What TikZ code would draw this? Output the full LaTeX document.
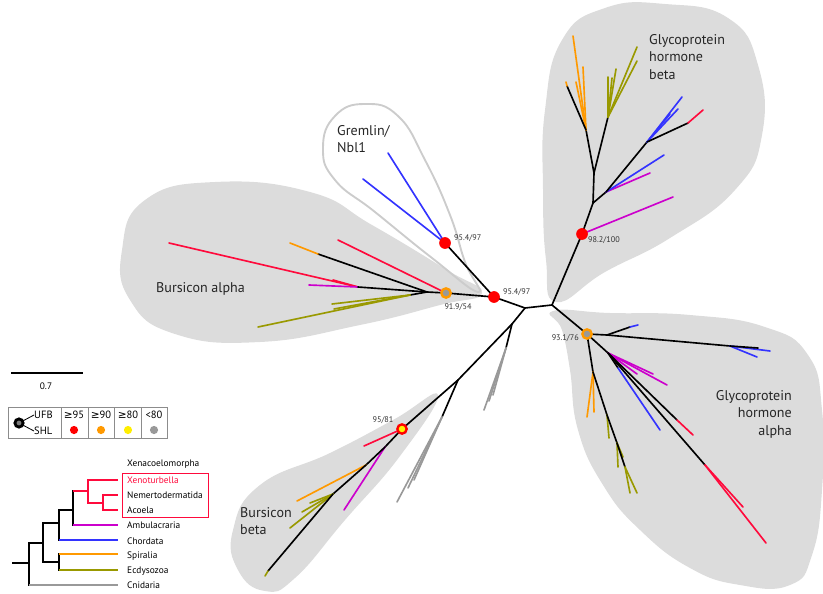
\documentclass[tikz,border=0pt]{standalone}
\usepackage{fontspec}
\setmainfont{PT Sans}
\newfontfamily\symfont{DejaVu Sans}
\usepackage{xcolor}
\usepackage{tikz}
\usetikzlibrary{arrows.meta,positioning,calc}
\definecolor{xencol}{HTML}{FF0A3C}
\definecolor{ambcol}{HTML}{CC00CC}
\definecolor{chocol}{HTML}{3333FF}
\definecolor{spicol}{HTML}{FF9900}
\definecolor{ecdcol}{HTML}{999900}
\definecolor{cnicol}{HTML}{999999}
\definecolor{blobfill}{HTML}{DCDCDC}
\definecolor{gremline}{HTML}{CCCCCC}
\definecolor{bsred}{HTML}{FF0000}
\definecolor{bsorange}{HTML}{FF9900}
\definecolor{bsyellow}{HTML}{FFEE00}
\definecolor{bsgrey}{HTML}{999999}

\begin{document}
\begin{tikzpicture}[
  x=0.03cm, y=-0.03cm,
  br/.style={line width=1.4pt, line cap=round},
  xen/.style={br, xencol},
  amb/.style={br, ambcol},
  cho/.style={br, chocol},
  spi/.style={br, spicol},
  ecd/.style={br, ecdcol},
  cni/.style={br, cnicol},
  cbr/.style={line width=2.2pt, line cap=rect},
  clade/.style={font=\fontsize{12}{15}\selectfont, text=black!85, inner sep=0pt},
  suplab/.style={font=\fontsize{7}{8}\selectfont, text=black!80, inner sep=0pt},
  leglab/.style={font=\fontsize{8}{9}\selectfont, inner sep=0pt, anchor=west},
  boxlab/.style={font=\fontsize{9}{10}\selectfont, inner sep=0pt},
  sup95/.style={circle, fill=bsred, inner sep=0pt, minimum size=10pt},
  sup90/.style={circle, fill=bsgrey, draw=bsorange, line width=2pt, inner sep=0pt, minimum size=8pt},
  sup80/.style={circle, fill=bsyellow, draw=bsred, line width=2pt, inner sep=0pt, minimum size=8pt},
  legdot/.style={circle, inner sep=0pt, minimum size=7pt}
]
  \useasboundingbox (0,0) rectangle (823,593);

  \fill[blobfill] plot[smooth cycle, tension=0.8] coordinates {(122,250) (145,200) (215,182) (310,192) (372,225) (447,270) (482,293) (440,305) (360,325) (260,342) (175,334) (130,300)};
  \fill[blobfill] plot[smooth cycle, tension=0.8] coordinates {(556,302) (546,260) (543,190) (545,110) (562,40) (605,8) (665,4) (728,18) (758,65) (762,135) (735,190) (670,238) (605,272)};
  \fill[blobfill] plot[smooth cycle, tension=0.8] coordinates {(553,311) (610,313) (690,315) (765,327) (808,355) (822,410) (822,490) (812,555) (790,585) (740,585) (690,568) (640,530) (603,485) (578,430) (570,370) (562,330)};
  \fill[blobfill] plot[smooth cycle, tension=0.8] coordinates {(438,395) (393,420) (330,453) (260,485) (233,530) (238,570) (265,591) (295,578) (345,520) (400,456)};
  \draw[gremline, line width=1.6pt] plot[smooth cycle, tension=0.8] coordinates {(478,292) (465,262) (450,215) (425,160) (398,116) (365,104) (335,116) (323,148) (335,180) (375,212) (432,258)};

  \coordinate (root) at (552,305);
  \coordinate (lj) at (525,308);
  \coordinate (gb) at (494,297);
  \coordinate (grem) at (445,243);
  \coordinate (bsa) at (446,293);
  \coordinate (bsaj) at (427,292);
  \coordinate (ghb) at (582,234);
  \coordinate (gha) at (587,334);
  \coordinate (bsb) at (402,429);
  \coordinate (cn1) at (512,324);
  \coordinate (cn1b) at (506,348);
  \coordinate (cn2) at (458,380);
  \coordinate (cn3) at (442,417);

  \draw[br] (root) -- (lj);
  \draw[br] (lj) -- (gb);
  \draw[br] (root) -- (ghb);
  \draw[br] (root) -- (gha);
  \draw[br] (gb) -- (grem);
  \draw[br] (gb) -- (bsa);
  \draw[br] (bsa) -- (bsaj);

  \coordinate (gr1) at (388,153);
  \coordinate (gr2) at (363,179);
  \draw[cho] (grem) -- (gr1);
  \draw[cho] (grem) -- (gr2);

  \coordinate (ba1) at (338,240);
  \coordinate (ba2) at (318,254);
  \coordinate (ba3) at (290,243);
  \coordinate (ba4) at (358,287);
  \coordinate (ba5) at (169,243);
  \coordinate (ba5b) at (333,280);
  \coordinate (ba6) at (309,285);
  \coordinate (ba7) at (410,295);
  \coordinate (ba8) at (258,327);
  \coordinate (ba9) at (332,304);
  \coordinate (ba10) at (334,309);
  \draw[xen] (bsa) -- (ba1);
  \draw[br] (bsaj) -- (ba2);
  \draw[spi] (ba2) -- (ba3);
  \draw[xen] (ba4) -- (ba5);
  \draw[xen] (ba4) -- (ba5b);
  \draw[amb] (ba4) -- (ba6);
  \draw[br] (bsaj) -- (ba4);
  \draw[br] (bsaj) -- (ba7);
  \draw[ecd] (ba7) -- (ba8);
  \draw[ecd] (ba7) -- (ba9);
  \draw[ecd] (ba7) -- (ba10);

  \coordinate (hb1) at (673,197);
  \coordinate (hb2) at (593,203);
  \coordinate (hb3) at (606,192);
  \coordinate (hb4) at (650,173);
  \coordinate (hb5) at (664,155);
  \coordinate (hb6) at (647,142);
  \coordinate (hb7) at (688,123);
  \coordinate (hb8) at (703,110);
  \coordinate (hb9) at (682,97);
  \coordinate (hb10) at (678,109);
  \coordinate (hb11) at (670,114);
  \coordinate (hb12) at (594,173);
  \coordinate (hb13) at (586,130);
  \coordinate (hb14) at (567,86);
  \coordinate (hb14b) at (566,82);
  \coordinate (hbo1) at (573,36);
  \coordinate (hbo2) at (576,82);
  \coordinate (hbo3) at (583,67);
  \coordinate (hb15) at (608,117);
  \coordinate (hbe1) at (637,47);
  \coordinate (hbe2) at (637,61);
  \coordinate (hbe3) at (616,69);
  \coordinate (hbe4) at (608,77);
  \coordinate (hbe5) at (612,78);
  \draw[amb] (ghb) -- (hb1);
  \draw[br] (ghb) -- (hb2);
  \draw[br] (hb2) -- (hb3);
  \draw[amb] (hb3) -- (hb4);
  \draw[cho] (hb3) -- (hb5);
  \draw[br] (hb3) -- (hb6);
  \draw[cho] (hb6) -- (hb9);
  \draw[cho] (hb6) -- (hb10);
  \draw[cho] (hb6) -- (hb11);
  \draw[br] (hb6) -- (hb7);
  \draw[xen] (hb7) -- (hb8);
  \draw[br] (hb2) -- (hb12);
  \draw[br] (hb12) -- (hb13);
  \draw[spi] (hb13) -- (hbo1);
  \draw[spi] (hb13) -- (hbo2);
  \draw[spi] (hb13) -- (hbo3);
  \draw[br] (hb13) -- (hb14);
  \draw[spi] (hb14) -- (hb14b);
  \draw[br] (hb12) -- (hb15);
  \draw[ecd] (hb15) -- (hbe1);
  \draw[ecd] (hb15) -- (hbe2);
  \draw[ecd] (hb15) -- (hbe3);
  \draw[ecd] (hb15) -- (hbe4);
  \draw[ecd] (hb15) -- (hbe5);

  \coordinate (ha1) at (607,335);
  \coordinate (ha2) at (630,327);
  \coordinate (ha3) at (638,325);
  \coordinate (ha4) at (730,346);
  \coordinate (ha4a) at (757,357);
  \coordinate (ha4b) at (770,351);
  \coordinate (ha5) at (758,348);
  \coordinate (ha6) at (608,353);
  \coordinate (ham1) at (637,374);
  \coordinate (ham2) at (653,374);
  \coordinate (ham3) at (667,385);
  \coordinate (ha7) at (618,368);
  \coordinate (ha7b) at (660,430);
  \coordinate (ha8) at (677,420);
  \coordinate (ha8b) at (693,435);
  \coordinate (ha9) at (705,465);
  \coordinate (ha9a) at (743,507);
  \coordinate (ha9b) at (766,543);
  \coordinate (ha10) at (593,372);
  \coordinate (hao1) at (587,417);
  \coordinate (hao2) at (594,412);
  \coordinate (ha12) at (607,415);
  \coordinate (ha13) at (617,443);
  \coordinate (ha14) at (625,467);
  \coordinate (hae1) at (609,438);
  \coordinate (hae2) at (623,457);
  \coordinate (hae3) at (618,467);
  \coordinate (hae4) at (630,493);
  \coordinate (hae5) at (637,493);
  \draw[br] (gha) -- (ha1);
  \draw[br] (ha1) -- (ha2);
  \draw[cho] (ha2) -- (ha3);
  \draw[br] (ha1) -- (ha4);
  \draw[cho] (ha4) -- (ha4a);
  \draw[cho] (ha4) -- (ha4b);
  \draw[br] (ha4) -- (ha5);
  \draw[br] (gha) -- (ha6);
  \draw[amb] (ha6) -- (ham1);
  \draw[amb] (ha6) -- (ham2);
  \draw[amb] (ha6) -- (ham3);
  \draw[br] (ha6) -- (ha7);
  \draw[cho] (ha7) -- (ha7b);
  \draw[br] (ha6) -- (ha8);
  \draw[xen] (ha8) -- (ha8b);
  \draw[br] (ha6) -- (ha9);
  \draw[xen] (ha9) -- (ha9a);
  \draw[xen] (ha9) -- (ha9b);
  \draw[br] (gha) -- (ha10);
  \draw[spi] (ha10) -- (hao1);
  \draw[spi] (ha10) -- (hao2);
  \draw[br] (ha10) -- (ha12);
  \draw[ecd] (ha12) -- (hae1);
  \draw[br] (ha12) -- (ha13);
  \draw[ecd] (ha13) -- (hae2);
  \draw[ecd] (ha13) -- (hae3);
  \draw[br] (ha13) -- (ha14);
  \draw[ecd] (ha14) -- (hae4);
  \draw[ecd] (ha14) -- (hae5);

  \coordinate (cg1) at (484,410);
  \coordinate (cg2) at (493,395);
  \coordinate (cg3) at (489,401);
  \coordinate (cg4) at (397,502);
  \coordinate (cg5) at (414,480);
  \coordinate (cg6) at (408,488);
  \draw[br] (lj) -- (cn1);
  \draw[br] (cn1) -- (cn1b);
  \draw[cni] (cn1b) -- (cg1);
  \draw[cni] (cn1b) -- (cg2);
  \draw[cni] (cn1b) -- (cg3);
  \draw[br] (cn1) -- (cn2);
  \draw[br] (cn2) -- (cn3);
  \draw[cni] (cn3) -- (cg4);
  \draw[cni] (cn3) -- (cg5);
  \draw[cni] (cn3) -- (cg6);
  \draw[br] (cn2) -- (bsb);

  \coordinate (bb1) at (364,446);
  \coordinate (bb2) at (385,447);
  \coordinate (bb3) at (344,510);
  \coordinate (bb4) at (366,465);
  \coordinate (bb5) at (297,501);
  \coordinate (bb6) at (333,494);
  \coordinate (bbe1) at (290,528);
  \coordinate (bbe2) at (310,503);
  \coordinate (bbe3) at (302,512);
  \coordinate (bb7) at (268,571);
  \coordinate (bb7b) at (265,576);
  \draw[xen] (bsb) -- (bb1);
  \draw[br] (bsb) -- (bb2);
  \draw[amb] (bb2) -- (bb3);
  \draw[br] (bb2) -- (bb4);
  \draw[spi] (bb4) -- (bb5);
  \draw[br] (bb4) -- (bb6);
  \draw[ecd] (bb6) -- (bbe1);
  \draw[ecd] (bb6) -- (bbe2);
  \draw[ecd] (bb6) -- (bbe3);
  \draw[br] (bb6) -- (bb7);
  \draw[ecd] (bb7) -- (bb7b);

  \node[sup95] (ngrem) at (grem) {};
  \node[sup95] (ngb) at (gb) {};
  \node[sup90] (nbsa) at (bsa) {};
  \node[sup95] (nghb) at (ghb) {};
  \node[sup90] (ngha) at (gha) {};
  \node[sup80] (nbsb) at (bsb) {};

  \node[suplab, anchor=west] (sgrem) at (454,238) {95.4/97};
  \node[suplab, anchor=west] (sgb) at (503,292) {95.4/97};
  \node[suplab] (sbsa) at (458,307) {91.9/54};
  \node[suplab, anchor=west] (sghb) at (588,240) {98.2/100};
  \node[suplab, anchor=east] (sgha) at (579,338) {93.1/76};
  \node[suplab] (sbsb) at (383,420) {95/81};

  \node[clade, anchor=west, align=left] (lgrem) at (337,139) {Gremlin/\\Nbl1};
  \node[clade, anchor=west] (lbsa) at (156,289) {Bursicon alpha};
  \node[clade, anchor=west, align=left] (lghb) at (649,57) {Glycoprotein\\hormone\\beta};
  \node[clade, anchor=east, align=right] (lgha) at (792,414) {Glycoprotein\\hormone\\alpha};
  \node[clade, anchor=west, align=left] (lbsb) at (240,521) {Bursicon\\beta};

  \coordinate (sb1) at (11,373);
  \coordinate (sb2) at (83,373);
  \draw[line width=1.5pt] (sb1) -- (sb2);
  \node[leglab, anchor=center] (sblab) at (46,386) {0.7};

  \draw[black!45, line width=0.8pt] (8,407) rectangle (167,438);
  \foreach \xd in {61,88,114,141}
    \draw[black!45, line width=0.8pt] (\xd,407) -- (\xd,438);
  \node[boxlab, anchor=west] (kufb) at (34,415) {UFB};
  \node[boxlab, anchor=west] (kshl) at (34,431) {SHL};
  \coordinate (keyc) at (19,423);
  \draw[line width=0.7pt] (keyc) -- (kufb.west);
  \draw[line width=0.7pt] (keyc) -- (kshl.west);
  \node[circle, fill=bsgrey!80!black, draw=black, line width=2.4pt, inner sep=0pt, minimum size=7pt] (keydot) at (keyc) {};
  \node[boxlab] (h95) at (74,415) {{\symfont ≥}95};
  \node[boxlab] (h90) at (101,415) {{\symfont ≥}90};
  \node[boxlab] (h80) at (128,415) {{\symfont ≥}80};
  \node[boxlab] (hlt) at (154,415) {<80};
  \node[legdot, fill=bsred] (d95) at (74,430) {};
  \node[legdot, fill=bsorange] (d90) at (101,430) {};
  \node[legdot, fill=bsyellow] (d80) at (128,430) {};
  \node[legdot, fill=bsgrey] (dlt) at (154,430) {};

  \coordinate (k0) at (13,563);
  \coordinate (k1) at (29,563);
  \coordinate (k1a) at (29,543);
  \coordinate (k1b) at (29,585);
  \coordinate (k2) at (43,543);
  \coordinate (k2a) at (43,523);
  \coordinate (k2b) at (43,562);
  \coordinate (k3) at (59,562);
  \coordinate (k3a) at (59,554);
  \coordinate (k3b) at (59,570);
  \coordinate (k4) at (59,523);
  \coordinate (k4a) at (59,510);
  \coordinate (k4b) at (59,540);
  \coordinate (k5) at (73,510);
  \coordinate (k5a) at (73,491);
  \coordinate (k5b) at (73,525);
  \coordinate (k6) at (88,491);
  \coordinate (k6a) at (88,480);
  \coordinate (k6b) at (88,503);
  \coordinate (k7) at (103,503);
  \coordinate (k7a) at (103,495);
  \coordinate (k7b) at (103,510);
  \coordinate (txen) at (118,480);
  \coordinate (tnem) at (118,495);
  \coordinate (taco) at (118,510);
  \coordinate (tamb) at (118,525);
  \coordinate (tcho) at (118,540);
  \coordinate (tspi) at (118,554);
  \coordinate (tecd) at (118,570);
  \coordinate (tcni) at (118,585);

  \draw[cbr] (k0) -- (k1);
  \draw[cbr] (k1a) -- (k1b);
  \draw[cbr, cnicol, line cap=butt] (k1b) -- (tcni);
  \draw[cbr] (k1a) -- (k2);
  \draw[cbr] (k2a) -- (k2b);
  \draw[cbr] (k2b) -- (k3);
  \draw[cbr] (k3a) -- (k3b);
  \draw[cbr, spicol, line cap=butt] (k3a) -- (tspi);
  \draw[cbr, ecdcol, line cap=butt] (k3b) -- (tecd);
  \draw[cbr] (k2a) -- (k4);
  \draw[cbr] (k4a) -- (k4b);
  \draw[cbr, chocol, line cap=butt] (k4b) -- (tcho);
  \draw[cbr] (k4a) -- (k5);
  \draw[cbr] (k5a) -- (k5b);
  \draw[cbr, ambcol, line cap=butt] (k5b) -- (tamb);
  \draw[cbr, xencol, line cap=butt] (k5a) -- (k6);
  \draw[cbr, xencol] (k6a) -- (k6b);
  \draw[cbr, xencol, line cap=butt] (k6a) -- (txen);
  \draw[cbr, xencol, line cap=butt] (k6b) -- (k7);
  \draw[cbr, xencol] (k7a) -- (k7b);
  \draw[cbr, xencol, line cap=butt] (k7a) -- (tnem);
  \draw[cbr, xencol, line cap=butt] (k7b) -- (taco);

  \node[leglab] (lxac) at (127,464) {Xenacoelomorpha};
  \node[leglab, text=xencol] (lxen) at (127,480) {Xenoturbella};
  \node[leglab] (lnem) at (127,495) {Nemertodermatida};
  \node[leglab] (laco) at (127,510) {Acoela};
  \node[leglab] (lamb) at (127,525) {Ambulacraria};
  \node[leglab] (lcho) at (127,541) {Chordata};
  \node[leglab] (lspi) at (127,556) {Spiralia};
  \node[leglab] (lecd) at (127,571) {Ecdysozoa};
  \node[leglab] (lcni) at (127,585) {Cnidaria};
  \draw[xencol, line width=0.8pt] (122,473) rectangle (208,517);
\end{tikzpicture}
\end{document}
